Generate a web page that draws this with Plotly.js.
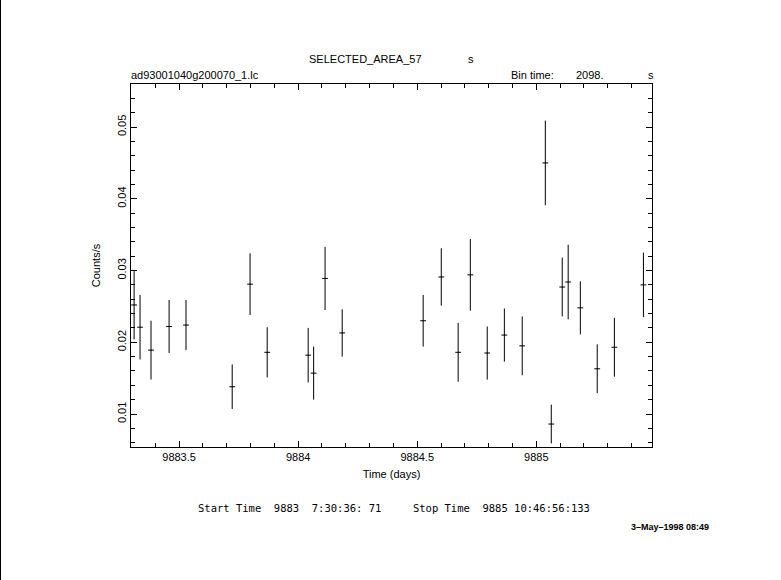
<!DOCTYPE html>
<html>
<head>
<meta charset="utf-8">
<script src="https://cdn.plot.ly/plotly-3.0.1.min.js"></script>
<style>
  html, body { margin: 0; padding: 0; background: #fff; }
  #chart { width: 780px; height: 580px; border-left: 1px solid #000; }
</style>
</head>
<body>
<div id="chart"></div>
<script>
// Time of each bin (days)
const timeDays = [9883.311, 9883.336, 9883.382, 9883.458, 9883.529, 9883.723, 9883.798, 9883.870,
  9884.042, 9884.065, 9884.113, 9884.185, 9884.525, 9884.601, 9884.672, 9884.723, 9884.794,
  9884.866, 9884.941, 9885.038, 9885.063, 9885.109, 9885.134, 9885.185, 9885.256, 9885.328, 9885.450];
// Count rate (counts/s)
const rate = [0.0252, 0.0221, 0.0189, 0.0222, 0.0224, 0.0138, 0.0281, 0.0186,
  0.0182, 0.0157, 0.0289, 0.0213, 0.0230, 0.0291, 0.0186, 0.0294, 0.0185,
  0.0210, 0.0195, 0.0450, 0.0086, 0.0277, 0.0284, 0.0248, 0.0163, 0.0193, 0.0280];
// 1-sigma error on rate
const rateErr = [0.0048, 0.0045, 0.0041, 0.0037, 0.0035, 0.0031, 0.0043, 0.0035,
  0.0038, 0.0037, 0.0044, 0.0033, 0.0036, 0.0040, 0.0041, 0.0050, 0.0037,
  0.0037, 0.0041, 0.0059, 0.0027, 0.0041, 0.0052, 0.0037, 0.0034, 0.0041, 0.0045];
// half bin width (2098 s) in days
const halfBin = 0.01214;
const xTickVals = [9883.5, 9884, 9884.5, 9885];
const xTickText = ["9883.5", "9884", "9884.5", "9885"];
const yTickVals = [0.01, 0.02, 0.03, 0.04, 0.05];
const yTickText = ["0.01", "0.02", "0.03", "0.04", "0.05"];

const FONT = "Liberation Sans, Arial, sans-serif";
const MONO = "DejaVu Sans Mono, Liberation Mono, monospace";
const NB = "\u00a0";

const trace = {
  x: timeDays,
  y: rate,
  type: "scatter",
  mode: "markers",
  marker: { size: 1, color: "#000" },
  error_y: { type: "data", array: rateErr, visible: true, color: "#000", thickness: 1, width: 0 },
  error_x: { type: "constant", value: halfBin, visible: true, color: "#000", thickness: 1, width: 0 },
  hoverinfo: "x+y"
};

const bottomLine = "Start" + NB + "Time" + NB + NB + "9883" + NB + NB + "7:30:36:" + NB + "71" +
  NB + NB + NB + NB + NB + "Stop" + NB + "Time" + NB + NB + "9885" + NB + "10:46:56:133";

const layout = {
  width: 780,
  height: 580,
  paper_bgcolor: "#fff",
  plot_bgcolor: "#fff",
  showlegend: false,
  margin: { l: 130, r: 129, t: 84, b: 133 },
  font: { family: FONT, size: 11, color: "#000" },
  xaxis: {
    range: [9883.298, 9885.486],
    tickmode: "array", tickvals: xTickVals, ticktext: xTickText,
    ticks: "inside", ticklen: 6, tickwidth: 1, tickcolor: "#000",
    minor: { dtick: 0.1, tick0: 9883.5, ticks: "inside", ticklen: 4, tickwidth: 1, tickcolor: "#000", showgrid: false },
    showline: true, linecolor: "#000", linewidth: 1, mirror: "allticks",
    showgrid: false, zeroline: false,
    tickfont: { family: FONT, size: 11, color: "#000" },
    title: { text: "Time (days)", font: { family: FONT, size: 11, color: "#000" }, standoff: 8 }
  },
  yaxis: {
    range: [0.0054, 0.0560],
    tickmode: "array", tickvals: yTickVals, ticktext: yTickText,
    tickangle: -90,
    ticks: "inside", ticklen: 6, tickwidth: 1, tickcolor: "#000",
    minor: { dtick: 0.002, tick0: 0, ticks: "inside", ticklen: 4, tickwidth: 1, tickcolor: "#000", showgrid: false },
    showline: true, linecolor: "#000", linewidth: 1, mirror: "allticks",
    showgrid: false, zeroline: false,
    tickfont: { family: FONT, size: 11, color: "#000" },
    title: { text: "Counts/s", font: { family: FONT, size: 11, color: "#000" }, standoff: 12 }
  },
  annotations: [
    { text: "SELECTED_AREA_57", xref: "paper", yref: "paper", x: 0.451, y: 1.0697, xanchor: "center", yanchor: "middle", showarrow: false },
    { text: "s", xref: "paper", yref: "paper", x: 0.652, y: 1.0697, xanchor: "center", yanchor: "middle", showarrow: false },
    { text: "ad93001040g200070_1.lc", xref: "paper", yref: "paper", x: -0.003, y: 1.0256, xanchor: "left", yanchor: "middle", showarrow: false },
    { text: "Bin time:", xref: "paper", yref: "paper", x: 0.725, y: 1.0256, xanchor: "left", yanchor: "middle", showarrow: false },
    { text: "2098.", xref: "paper", yref: "paper", x: 0.850, y: 1.0256, xanchor: "left", yanchor: "middle", showarrow: false },
    { text: "s", xref: "paper", yref: "paper", x: 0.998, y: 1.0256, xanchor: "center", yanchor: "middle", showarrow: false },
    { text: bottomLine, xref: "paper", yref: "paper", x: 0.504, y: -0.168, xanchor: "center", yanchor: "middle", showarrow: false,
      font: { family: MONO, size: 10.5, color: "#000" } },
    { text: "3\u2013May\u20131998 08:49", xref: "paper", yref: "paper", x: 1.0346, y: -0.2206, xanchor: "center", yanchor: "middle", showarrow: false,
      font: { family: FONT, size: 9, color: "#000", weight: "bold" } }
  ]
};

Plotly.newPlot("chart", [trace], layout, { displayModeBar: false, staticPlot: true });
</script>
</body>
</html>
